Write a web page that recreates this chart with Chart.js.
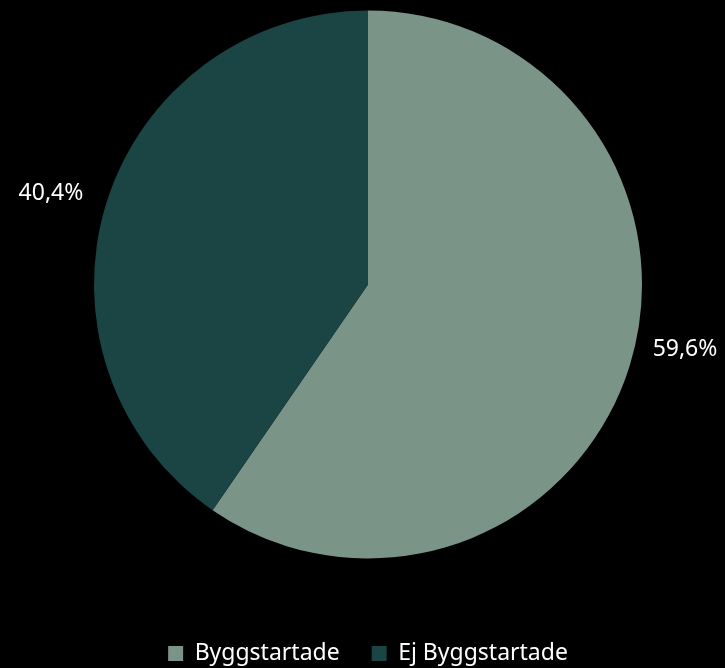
<!DOCTYPE html>
<html>
<head>
<meta charset="utf-8">
<script src="https://cdn.jsdelivr.net/npm/chart.js@4/dist/chart.umd.min.js"></script>
<style>
html,body{margin:0;padding:0;background:#000;}
#wrap{width:725px;height:668px;position:relative;}
</style>
</head>
<body>
<div id="wrap"><canvas id="c" width="725" height="668"></canvas></div>
<script>
const categories = ["Byggstartade", "Ej Byggstartade"];
const values = [59.6, 40.4];
const valueLabels = ["59,6%", "40,4%"];
const colors = ["#7a9488", "#1b4544"];

const FONT = "'Noto Sans', sans-serif";

const outsideLabels = {
  id: 'outsideLabels',
  afterDatasetsDraw(chart) {
    const ctx = chart.ctx;
    const meta = chart.getDatasetMeta(0);
    ctx.save();
    ctx.font = "23px " + FONT;
    ctx.fillStyle = "#ffffff";
    ctx.textAlign = "center";
    ctx.textBaseline = "middle";
    meta.data.forEach((arc, i) => {
      const p = arc.getProps(['x','y','startAngle','endAngle','outerRadius'], true);
      const mid = (p.startAngle + p.endAngle) / 2;
      const R = p.outerRadius + 58;
      const x = p.x + Math.cos(mid) * R;
      const y = p.y - 13 + Math.sin(mid) * R * 0.79;
      ctx.fillText(valueLabels[i], x, y);
    });
    ctx.restore();
  }
};

new Chart(document.getElementById('c'), {
  type: 'pie',
  data: {
    labels: categories,
    datasets: [{
      data: values,
      backgroundColor: colors,
      borderWidth: 0
    }]
  },
  options: {
    responsive: false,
    animation: false,
    layout: { padding: { left: 94, right: 83, top: 0, bottom: -7 } },
    plugins: {
      tooltip: { enabled: false },
      legend: {
        position: 'bottom',
        title: {
          display: true,
          text: ' ',
          font: { size: 10, lineHeight: 1 },
          padding: { top: 31, bottom: 0 }
        },
        labels: {
          color: '#ffffff',
          font: { size: 23, family: FONT },
          boxWidth: 15,
          boxHeight: 15,
          padding: 32
        }
      }
    }
  },
  plugins: [outsideLabels]
});
</script>
</body>
</html>
